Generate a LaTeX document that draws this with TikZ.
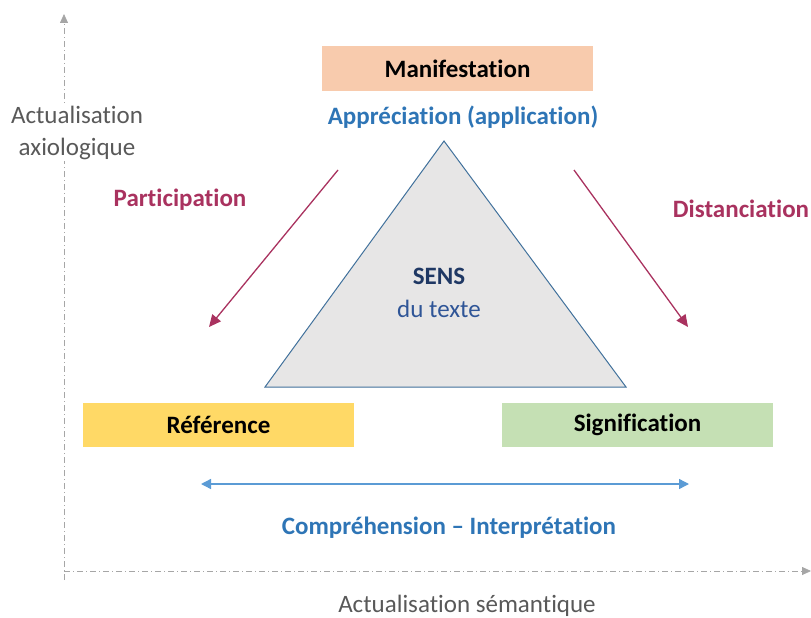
\documentclass[tikz,border=0pt]{standalone}
\usepackage{fontspec}
\setmainfont{Carlito}[Ligatures={NoCommon}]
\usetikzlibrary{arrows.meta}
\definecolor{axisgray}{HTML}{A6A6A6}
\definecolor{txtgray}{HTML}{595959}
\definecolor{peach}{HTML}{F8CBAD}
\definecolor{gold}{HTML}{FFD966}
\definecolor{lgreen}{HTML}{C5E0B4}
\definecolor{midblue}{HTML}{2E75B6}
\definecolor{lblue}{HTML}{5B9BD5}
\definecolor{triedge}{HTML}{41719C}
\definecolor{trifill}{HTML}{E7E6E6}
\definecolor{navy}{HTML}{1F3864}
\definecolor{darkblue}{HTML}{2F5597}
\definecolor{crimson}{HTML}{A9325F}
\tikzset{
  axisline/.style={draw=axisgray, line width=0.8pt, dash pattern=on 6pt off 3pt on 1pt off 3pt, -{Triangle[length=9pt,width=8pt]}},
  axislabel/.style={text=txtgray, font=\fontsize{25}{32}\selectfont, align=center},
  box/.style={minimum width=271pt, minimum height=44pt, inner sep=0pt, font=\bfseries\fontsize{25}{30}\selectfont},
  bluelabel/.style={text=midblue, font=\bfseries\fontsize{25}{30}\selectfont},
  redlabel/.style={text=crimson, font=\bfseries\fontsize{25}{30}\selectfont},
  redarrow/.style={draw=crimson, line width=1.3pt, -{Triangle[length=12pt,width=11pt]}},
  bluearrow/.style={draw=lblue, line width=1.4pt, {Triangle[length=10pt,width=10pt]}-{Triangle[length=10pt,width=10pt]}},
}
\begin{document}
\begin{tikzpicture}[x=1pt,y=-1pt]
\useasboundingbox (0,0) rectangle (811,618);
% axes
\coordinate (origin) at (64,571);
\coordinate (ytop) at (64,14);
\coordinate (xend) at (811,571);
\draw[axisline] (64,580) -- (ytop);
\draw[axisline] (origin) -- (xend);
\node[axislabel, fill=white, inner sep=1pt] (ylab) at (77,133) {Actualisation\\axiologique};
\node[axislabel] (xlab) at (467,606) {Actualisation sémantique};
% triangle
\coordinate (apex) at (444,141);
\coordinate (bl) at (265,387);
\coordinate (br) at (626,387);
\draw[draw=triedge, fill=trifill, line width=1pt] (apex) -- (bl) -- (br) -- cycle;
\node[text=navy, font=\bfseries\fontsize{25}{30}\selectfont] (sens) at (439,276) {SENS};
\node[text=darkblue, font=\fontsize{25}{30}\selectfont] (dutexte) at (439,309) {du texte};
% boxes
\node[box, fill=peach] (manif) at (457.5,68.5) {Manifestation};
\node[bluelabel] (appr) at (463,117) {Appréciation (application)};
\node[box, fill=gold] (ref) at (218.5,425) {Référence};
\node[box, fill=lgreen] (sig) at (637.5,425) {Signification};
% arrows
\coordinate (p1) at (338,170);
\coordinate (p2) at (209,327);
\coordinate (d1) at (574,170);
\coordinate (d2) at (688,327);
\draw[redarrow] (p1) -- (p2);
\draw[redarrow] (d1) -- (d2);
\node[redlabel] (part) at (180,200) {Participation};
\node[redlabel] (dist) at (741,209) {Distanciation};
\coordinate (c1) at (201,484);
\coordinate (c2) at (689,484);
\draw[bluearrow] (c1) -- (c2);
\node[bluelabel] (comp) at (449,528) {Compréhension – Interprétation};
\end{tikzpicture}
\end{document}
